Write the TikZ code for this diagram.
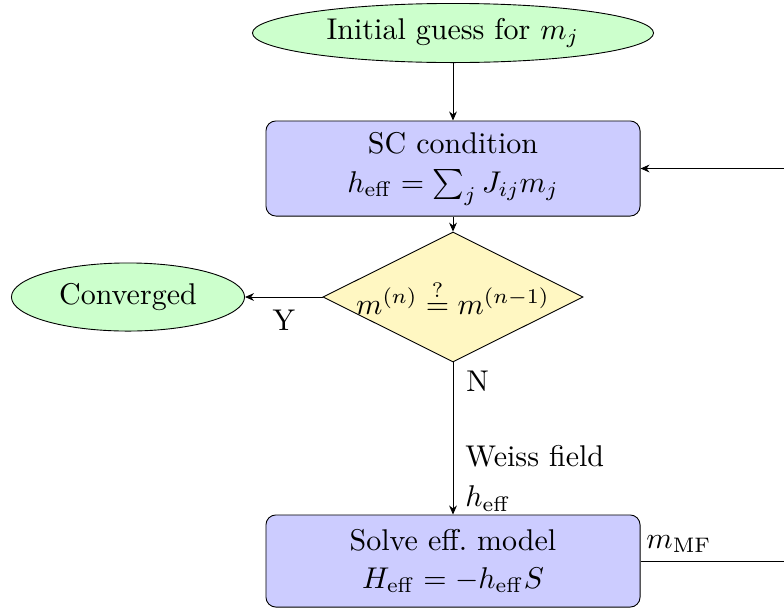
\documentclass[tikz,border=0pt]{standalone}
\usetikzlibrary{shapes.geometric,arrows.meta}
\definecolor{termgreen}{RGB}{204,255,204}
\definecolor{procblue}{RGB}{204,204,255}
\definecolor{decyellow}{RGB}{255,247,194}
\tikzset{
  terminal/.style={ellipse, draw, fill=termgreen, inner sep=0pt},
  process/.style={rectangle, draw, rounded corners=3.3pt, fill=procblue, inner sep=0pt,
    minimum width=124.7pt, align=center},
  decision/.style={diamond, draw, fill=decyellow, inner sep=0pt,
    minimum width=86.7pt, minimum height=43.3pt},
  flow/.style={-{Stealth[length=3pt,width=2.6pt]}},
  lbl/.style={inner sep=0pt}
}
\begin{document}
\begin{tikzpicture}[x=0.33333pt,y=-0.33333pt,line width=0.3pt]
\path[use as bounding box, clip] (0,0) rectangle (784,609);

\node[terminal, minimum width=133.7pt, minimum height=19.7pt] (init) at (453,33) {Initial guess for $m_j$};
\node[process, minimum height=31.7pt] (sc) at (453,168.5) {SC condition\\[1pt] $h_{\mathrm{eff}}=\sum_j J_{ij}m_j$};
\node[decision, label={center:$m^{(n)}\stackrel{?}{=}m^{(n-1)}$}] (dec) at (453,297) {};
\node[terminal, minimum width=77.7pt, minimum height=22.7pt] (conv) at (128,297) {Converged};
\node[process, minimum height=30.7pt] (solve) at (453,561) {Solve eff.\ model\\[0.5pt] $H_{\mathrm{eff}}=-h_{\mathrm{eff}}S$};

\coordinate (loopx) at (830,0);

\draw[flow] (init) -- (sc);
\draw[flow] (sc) -- (dec);
\draw[flow] (dec.west) -- (conv.east) node[lbl, pos=0.5, anchor=base, yshift=-11pt] (ylab) {Y};
\draw[flow] (dec.south) -- (solve.north)
  node[lbl, pos=0, anchor=base west, xshift=4.3pt, yshift=-9.7pt] (nlab) {N}
  node[lbl, pos=1, anchor=south west, xshift=4pt, yshift=1pt, align=left] (wlab) {Weiss field\\[1.5pt] $h_{\mathrm{eff}}$};
\draw[flow] (solve.east) -- (solve.east -| loopx) -- (sc.east -| loopx) -- (sc.east);
\node[lbl, anchor=base west] (mlab) at (646,548) {$m_{\mathrm{MF}}$};
\end{tikzpicture}
\end{document}
